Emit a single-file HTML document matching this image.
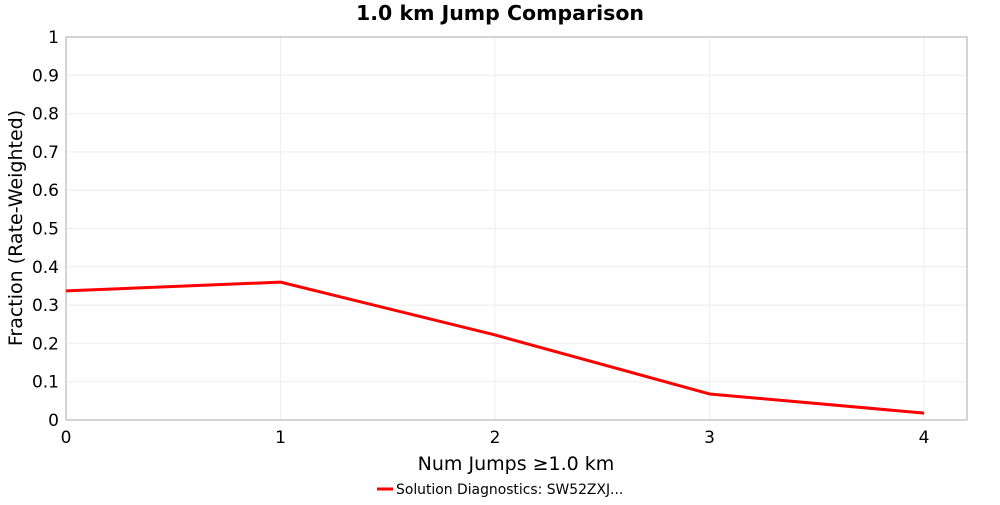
<!DOCTYPE html>
<html><head><meta charset="utf-8"><style>
body{margin:0;background:#fff;}
svg text{font-family:"DejaVu Sans","Liberation Sans",sans-serif;}
</style></head><body>
<svg id="chart" width="1000" height="500" xmlns="http://www.w3.org/2000/svg">
<rect width="1000" height="500" fill="#fff"/>
<text x="500" y="20" text-anchor="middle" font-size="20.5" font-weight="bold">1.0 km Jump Comparison</text>
<g id="grid"></g>
<rect x="66" y="37" width="901" height="383" fill="none" stroke="#aaa"/>
<g id="ticks"></g>
<g id="series"></g>
<text x="516" y="470" text-anchor="middle" font-size="19">Num Jumps ≥1.0 km</text>
<text transform="translate(22,228) rotate(-90)" text-anchor="middle" font-size="19">Fraction (Rate-Weighted)</text>
<g>
<line x1="377" y1="489" x2="393" y2="489" stroke="red" stroke-width="3"/>
<text x="396" y="494" font-size="13.9">Solution Diagnostics: SW52ZXJ...</text>
</g>
</svg>
<script>
const xCats=[0,1,2,3,4];
const yVals=[0.337,0.360,0.222,0.068,0.018];
const yTicks=[0,0.1,0.2,0.3,0.4,0.5,0.6,0.7,0.8,0.9,1];
const yTickLabels=["0","0.1","0.2","0.3","0.4","0.5","0.6","0.7","0.8","0.9","1"];
const xTicks=[0,1,2,3,4];
const NS="http://www.w3.org/2000/svg";
const X=v=>66+v*(901/4.2);
const Y=v=>420-v*383;
const grid=document.getElementById('grid'),ticks=document.getElementById('ticks'),ser=document.getElementById('series');
function mk(tag,attrs,parent){const e=document.createElementNS(NS,tag);for(const k in attrs)e.setAttribute(k,attrs[k]);parent.appendChild(e);return e;}
yTicks.forEach((t,i)=>{
 const g=mk('line',{x1:66,x2:967,y1:Y(t),y2:Y(t),stroke:'#eeeeee'},grid);
 
 
 const tx=mk('text',{x:59,y:Y(t)+6,'text-anchor':'end','font-size':17},ticks);
 tx.textContent=yTickLabels[i];
 
 
});
xTicks.forEach(t=>{
 const g=mk('line',{x1:X(t),x2:X(t),y1:37,y2:420,stroke:'#eeeeee'},grid);
 
 
 const tx=mk('text',{x:X(t),y:443,'text-anchor':'middle','font-size':17},ticks);
 tx.textContent=String(t);
 
 
});
const p=mk('polyline',{points:xCats.map((c,i)=>X(c)+','+Y(yVals[i])).join(' '),fill:'none',stroke:'red','stroke-width':3,'stroke-linejoin':'round'},ser);


</script>
</body></html>
